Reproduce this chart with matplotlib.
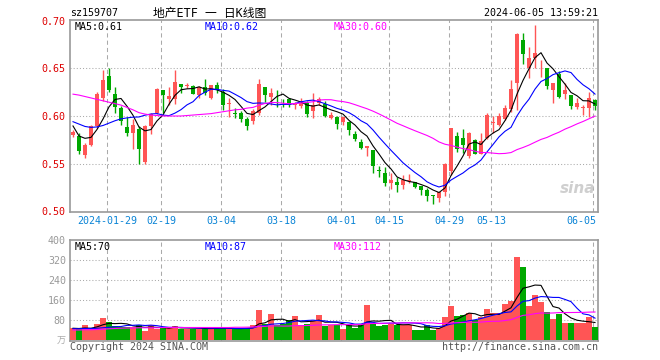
import numpy as np
import pandas as pd
import matplotlib
matplotlib.use("Agg")
import matplotlib.pyplot as plt

# daily bars of sz159707, 2024-01-19 .. 2024-06-05 (88 trading days)
opens = [0.580, 0.579, 0.559, 0.5695, 0.5895, 0.6185, 0.642, 0.6235, 0.608, 0.5885,
         0.5825, 0.586, 0.552, 0.5895, 0.6035, 0.627, 0.6175, 0.6175, 0.634, 0.632,
         0.6315, 0.622, 0.631, 0.619, 0.6325, 0.6255, 0.6122, 0.6035, 0.6035, 0.597,
         0.5948, 0.6035, 0.6305, 0.6203, 0.6182, 0.6182, 0.6175, 0.6115, 0.6105, 0.614,
         0.6053, 0.614, 0.613, 0.5983, 0.5993, 0.5937, 0.594, 0.5815, 0.573, 0.566,
         0.5647, 0.543, 0.540, 0.5293, 0.531, 0.5275, 0.5318, 0.531, 0.5265, 0.522,
         0.5165, 0.514, 0.5205, 0.542, 0.579, 0.5773, 0.558, 0.5745, 0.5605, 0.5773,
         0.5925, 0.591, 0.597, 0.607, 0.635, 0.6805, 0.6508, 0.6613, 0.6532, 0.650,
         0.627, 0.6438, 0.6235, 0.622, 0.6095, 0.6084, 0.608, 0.6165]
highs = [0.585, 0.5825, 0.572, 0.591, 0.6255, 0.648, 0.651, 0.630, 0.6105, 0.599,
         0.5965, 0.5895, 0.591, 0.6035, 0.6298, 0.627, 0.6305, 0.648, 0.634, 0.635,
         0.633, 0.6315, 0.639, 0.633, 0.636, 0.628, 0.619, 0.608, 0.605, 0.599,
         0.607, 0.639, 0.6305, 0.6298, 0.627, 0.6182, 0.619, 0.615, 0.619, 0.6158,
         0.6245, 0.620, 0.6158, 0.6045, 0.600, 0.599, 0.5948, 0.584, 0.5755, 0.5688,
         0.5647, 0.5475, 0.5458, 0.5405, 0.5353, 0.538, 0.5385, 0.531, 0.5265, 0.524,
         0.5165, 0.5205, 0.5505, 0.587, 0.583, 0.586, 0.583, 0.5755, 0.5825, 0.6035,
         0.600, 0.6035, 0.612, 0.6375, 0.6875, 0.6875, 0.6725, 0.6955, 0.6585, 0.650,
         0.635, 0.647, 0.635, 0.622, 0.619, 0.6115, 0.6255, 0.6175]
lows = [0.578, 0.560, 0.556, 0.568, 0.5875, 0.616, 0.6255, 0.6035, 0.5905, 0.579,
        0.565, 0.550, 0.549, 0.5815, 0.602, 0.6035, 0.6115, 0.613, 0.6245, 0.629,
        0.623, 0.619, 0.622, 0.6175, 0.6245, 0.606, 0.599, 0.598, 0.594, 0.585,
        0.592, 0.601, 0.615, 0.6115, 0.6095, 0.6095, 0.6095, 0.607, 0.608, 0.599,
        0.598, 0.6115, 0.599, 0.5965, 0.586, 0.5905, 0.580, 0.574, 0.565, 0.558,
        0.5405, 0.536, 0.5265, 0.523, 0.5195, 0.523, 0.530, 0.524, 0.517, 0.511,
        0.507, 0.5098, 0.516, 0.538, 0.562, 0.561, 0.556, 0.5595, 0.5595, 0.5755,
        0.5825, 0.5895, 0.596, 0.6045, 0.606, 0.6543, 0.6403, 0.6508, 0.641, 0.628,
        0.614, 0.6185, 0.6175, 0.607, 0.607, 0.601, 0.599, 0.606]
closes = [0.583, 0.563, 0.570, 0.5895, 0.6235, 0.638, 0.627, 0.609, 0.5948, 0.5825,
          0.5905, 0.565, 0.589, 0.6018, 0.628, 0.622, 0.621, 0.636, 0.631, 0.633,
          0.6235, 0.630, 0.6245, 0.6325, 0.627, 0.6115, 0.6133, 0.6025, 0.5965, 0.590,
          0.6053, 0.634, 0.622, 0.6245, 0.6175, 0.6175, 0.6115, 0.613, 0.614, 0.6018,
          0.6115, 0.618, 0.600, 0.601, 0.592, 0.599, 0.585, 0.5755, 0.566, 0.5688,
          0.5475, 0.5423, 0.530, 0.5328, 0.527, 0.5328, 0.5328, 0.5248, 0.522, 0.5155,
          0.5155, 0.5195, 0.549, 0.587, 0.565, 0.569, 0.582, 0.5605, 0.5735, 0.6007,
          0.5935, 0.600, 0.608, 0.628, 0.6858, 0.6655, 0.6613, 0.6665, 0.654, 0.6315,
          0.635, 0.620, 0.627, 0.6105, 0.614, 0.609, 0.619, 0.6105]
# volume, 万
volumes = [47, 45, 60, 46, 64, 90, 73, 55, 51, 53,
           51, 59, 38, 60, 43, 49, 47, 57, 46, 43,
           46, 45, 49, 46, 45, 51, 43, 45, 45, 49,
           62, 122, 66, 103, 60, 65, 81, 98, 60, 64,
           75, 101, 56, 62, 60, 46, 62, 49, 62, 142,
           66, 57, 62, 66, 60, 60, 60, 40, 40, 61,
           40, 50, 93, 135, 98, 102, 110, 80, 91, 126,
           107, 107, 146, 158, 332, 292, 135, 182, 152, 114,
           86, 105, 67, 69, 69, 67, 94, 51]

# moving averages on the first bars depend on days before the window ->
ma5_head = [0.5895, 0.579, 0.5765, 0.5775]
ma10_head = [0.594, 0.5915, 0.589, 0.588, 0.5885, 0.590, 0.5925, 0.595, 0.597]
ma30_head = [0.623, 0.622, 0.6205, 0.619, 0.6175, 0.616, 0.6145, 0.613, 0.6115, 0.609,
             0.6065, 0.6035, 0.602, 0.601, 0.6005, 0.600, 0.600, 0.600, 0.600, 0.6005,
             0.601, 0.6015, 0.602, 0.6025, 0.6035, 0.6045, 0.6055, 0.6065, 0.607]
vma5_head = [47, 46, 48, 47]
vma10_head = [45, 45, 46, 46, 47, 49, 51, 53, 54]
vma30_head = [40, 40, 41, 41, 42, 43, 45, 46, 47, 48, 48, 49, 49, 49, 49,
              50, 50, 50, 50, 50, 50, 50, 50, 50, 50, 50, 50, 51, 51]

date_pos = [6, 15, 25, 35, 45, 53, 63, 70, 87]
date_labels = ["2024-01-29", "02-19", "03-04", "03-18", "04-01", "04-15", "04-29", "05-13", "06-05"]
price_ticks = [0.50, 0.55, 0.60, 0.65, 0.70]
vol_ticks = [80, 160, 240, 320, 400]

RED = "#ff5555"
GREEN = "#00a800"
MONO = ["DejaVu Sans Mono", "Noto Sans CJK SC"]
FS = 7.2


def moving_avg(values, n, head):
    ma = pd.Series(values, dtype=float).rolling(n).mean().to_numpy()
    ma[:n - 1] = head
    return ma


x = np.arange(len(closes))
o = np.array(opens)
c = np.array(closes)
colors = np.where(c >= o, RED, GREEN)

ma5 = moving_avg(closes, 5, ma5_head)
ma10 = moving_avg(closes, 10, ma10_head)
ma30 = moving_avg(closes, 30, ma30_head)
vma5 = moving_avg(volumes, 5, vma5_head)
vma10 = moving_avg(volumes, 10, vma10_head)
vma30 = moving_avg(volumes, 30, vma30_head)

W, H = 660, 360
fig = plt.figure(figsize=(W / 100, H / 100), dpi=100)
fig.patch.set_facecolor("white")

ax = fig.add_axes([70 / W, 1 - 212 / H, 528 / W, 192 / H])
axv = fig.add_axes([70 / W, 1 - 341 / H, 528 / W, 101 / H])

# candles
ax.vlines(x, lows, highs, colors=colors, linewidth=1.0, zorder=3)
body = np.maximum(np.abs(c - o), 0.0009)
ax.bar(x, body, bottom=np.minimum(o, c), width=0.8, color=colors, linewidth=0, zorder=4)
ax.plot(x, ma5, color="black", lw=0.8, zorder=5)
ax.plot(x, ma10, color="#0000ff", lw=0.8, zorder=5)
ax.plot(x, ma30, color="#ff00ff", lw=0.8, zorder=5)

# volume
axv.bar(x, volumes, width=0.85, color=colors, linewidth=0, zorder=3)
axv.plot(x, vma5, color="black", lw=0.8, zorder=5)
axv.plot(x, vma10, color="#0000ff", lw=0.8, zorder=5)
axv.plot(x, vma30, color="#ff00ff", lw=0.8, zorder=5)

ax.set_ylim(0.49895, 0.70105)
axv.set_ylim(-4, 400)
for a in (ax, axv):
    a.set_xlim(-0.5, len(closes) - 0.5)
    a.set_xticks([])
    for s in a.spines.values():
        s.set_color("#999999")
        s.set_linewidth(1.2)
    for p in date_pos:
        a.axvline(p - 0.35, color="#aaaaaa", lw=0.75, ls=(0, (4, 3)), zorder=1)

for t in price_ticks[1:-1]:
    ax.axhline(t, color="#aaaaaa", lw=0.75, ls=(0, (1, 2)), zorder=1)
for t in vol_ticks[:-1]:
    axv.axhline(t, color="#aaaaaa", lw=0.75, ls=(0, (1, 2)), zorder=1)

ax.set_yticks(price_ticks)
ax.set_yticklabels([f"{t:.2f}" for t in price_ticks], family=MONO, fontsize=FS)
ax.tick_params(axis="y", length=0, pad=3, labelcolor="#dd0000")
axv.set_yticks(vol_ticks)
axv.set_yticklabels([str(t) for t in vol_ticks], family=MONO, fontsize=FS)
axv.tick_params(axis="y", length=0, pad=3, labelcolor="#999999")

# date labels
for i, (p, lab) in enumerate(zip(date_pos, date_labels)):
    ha = "right" if i == len(date_pos) - 1 else "center"
    xp = p + 0.2 if ha == "right" else p - 0.35
    ax.text(xp, -0.047, lab, transform=ax.get_xaxis_transform(), ha=ha, va="center",
            color="#0a84d6", fontsize=FS, family=MONO)

# MA legends
ax.text(0.009, 0.965, f"MA5:{ma5[-1]:.2f}", transform=ax.transAxes, fontsize=FS, family=MONO,
        color="black", va="center")
ax.text(0.255, 0.965, f"MA10:{ma10[-1]:.2f}", transform=ax.transAxes, fontsize=FS, family=MONO,
        color="#0000ff", va="center")
ax.text(0.5, 0.965, f"MA30:{ma30[-1]:.2f}", transform=ax.transAxes, fontsize=FS, family=MONO,
        color="#ff00ff", va="center")
axv.text(0.009, 0.93, f"MA5:{vma5[-1]:.0f}", transform=axv.transAxes, fontsize=FS, family=MONO,
         color="black", va="center")
axv.text(0.255, 0.93, f"MA10:{vma10[-1]:.0f}", transform=axv.transAxes, fontsize=FS, family=MONO,
         color="#0000ff", va="center")
axv.text(0.5, 0.93, f"MA30:{vma30[-1]:.0f}", transform=axv.transAxes, fontsize=FS, family=MONO,
         color="#ff00ff", va="center")

# sina watermark
ax.text(0.995, 0.12, "sina", transform=ax.transAxes, ha="right", va="center", fontsize=11,
        fontweight="bold", style="italic", color="#cfcfcf", zorder=2)

# header / footer
fig.text(70 / W, 1 - 13 / H, "sz159707", fontsize=FS, family=MONO, va="center")
fig.text(210 / W, 1 - 13 / H, "地产ETF 一 日K线图", fontsize=8.5, family=MONO, va="center",
         ha="center")
fig.text(598 / W, 1 - 13 / H, "2024-06-05 13:59:21", fontsize=FS, family=MONO, va="center",
         ha="right")
fig.text(66 / W, 1 - 341 / H, "万", fontsize=6.5, family=MONO, va="center", ha="right",
         color="#aaaaaa")
fig.text(70 / W, 1 - 347 / H, "Copyright 2024 SINA.COM", fontsize=FS, family=MONO,
         va="center", color="#555555")
fig.text(598 / W, 1 - 347 / H, "http://finance.sina.com.cn", fontsize=FS, family=MONO,
         va="center", ha="right", color="#555555")

fig.savefig("out.png", dpi=100, facecolor="white")
